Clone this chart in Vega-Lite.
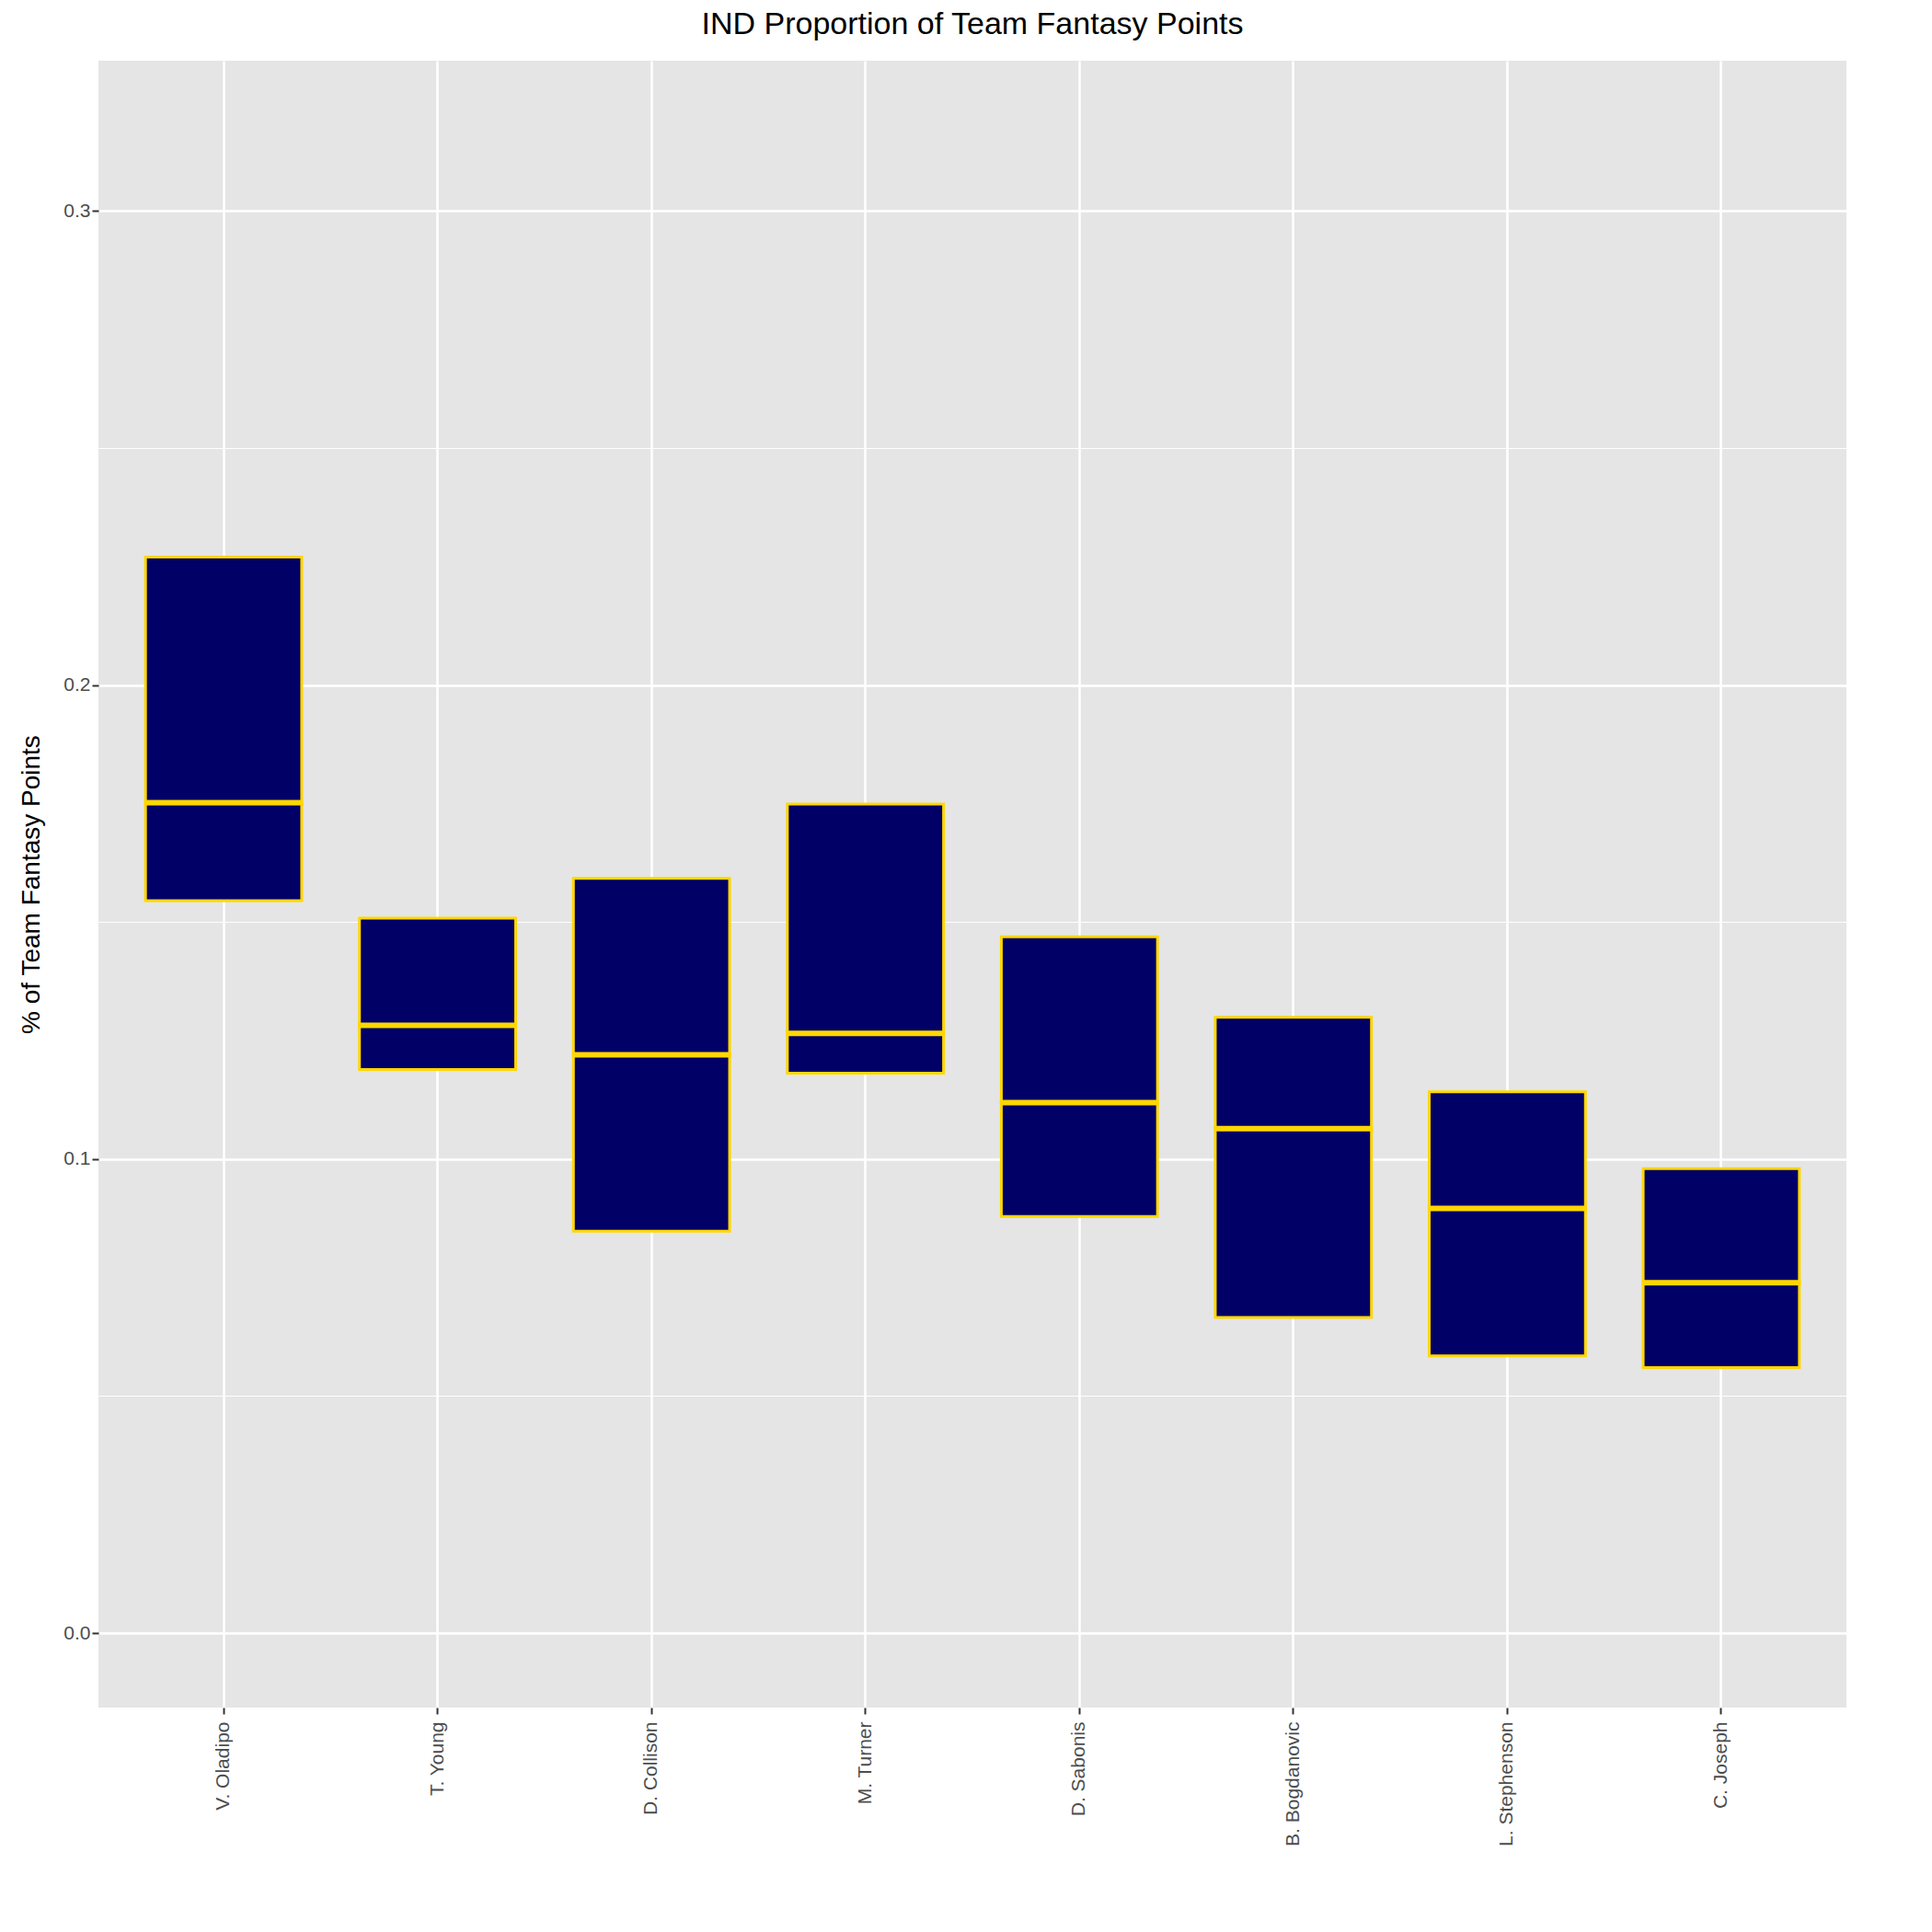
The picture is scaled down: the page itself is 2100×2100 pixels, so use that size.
{
  "$schema": "https://vega.github.io/schema/vega-lite/v6.json",
  "width": 1900,
  "height": 1790,
  "background": "white",
  "padding": {"left": 20, "top": 10, "right": 20, "bottom": 10},
  "title": {"text": "IND Proportion of Team Fantasy Points", "fontSize": 34, "font": "Liberation Sans", "fontWeight": "normal", "color": "black", "offset": 22},
  "config": {
    "view": {"fill": "#E5E5E5", "stroke": null},
    "axis": {"labelFont": "Liberation Sans", "titleFont": "Liberation Sans", "labelColor": "#4D4D4D", "tickColor": "#333333", "gridColor": "white", "domain": false}
  },
  "data": {"values": [
    {"player": "V. Oladipo", "low": 0.1545, "mid": 0.1752, "high": 0.227},
    {"player": "T. Young", "low": 0.1189, "mid": 0.1282, "high": 0.1508},
    {"player": "D. Collison", "low": 0.0848, "mid": 0.122, "high": 0.1592},
    {"player": "M. Turner", "low": 0.1181, "mid": 0.1265, "high": 0.1749},
    {"player": "D. Sabonis", "low": 0.0879, "mid": 0.1119, "high": 0.1469},
    {"player": "B. Bogdanovic", "low": 0.0666, "mid": 0.1064, "high": 0.1299},
    {"player": "L. Stephenson", "low": 0.0585, "mid": 0.0896, "high": 0.1142},
    {"player": "C. Joseph", "low": 0.056, "mid": 0.0739, "high": 0.098}
  ]},
  "resolve": {"axis": {"y": "independent"}},
  "layer": [
    {
      "mark": {"type": "tick", "opacity": 0},
      "encoding": {
        "y": {"field": "mid", "type": "quantitative", "scale": {"domain": [-0.0157, 0.3317], "nice": false, "zero": false},
          "axis": {"orient": "right", "values": [0.05, 0.15, 0.25], "labels": false, "ticks": false, "title": null, "grid": true, "gridWidth": 1.2}}
      }
    },
    {
      "mark": {"type": "tick", "opacity": 0},
      "encoding": {
        "x": {"field": "player", "type": "nominal", "sort": null,
          "scale": {"paddingInner": 0.27, "paddingOuter": 0.22},
          "axis": {"title": null, "labelAngle": -90, "labelFontSize": 21, "bandPosition": 0.5, "grid": true, "gridWidth": 2.5, "tickSize": 7, "tickWidth": 2, "labelPadding": 8}},
        "y": {"field": "mid", "type": "quantitative",
          "axis": {"values": [0, 0.1, 0.2, 0.3], "format": ".1f", "title": "% of Team Fantasy Points", "titleFontSize": 28, "titleFontWeight": "normal", "titleColor": "black", "labelFontSize": 21, "grid": true, "gridWidth": 2.5, "tickSize": 7, "tickWidth": 2, "titlePadding": 20}}
      }
    },
    {
      "mark": {"type": "bar", "fill": "#000066", "stroke": "#FFD700", "strokeWidth": 3},
      "encoding": {
        "x": {"field": "player", "type": "nominal", "sort": null},
        "y": {"field": "low", "type": "quantitative", "axis": null},
        "y2": {"field": "high"}
      }
    },
    {
      "mark": {"type": "tick", "color": "#FFD700", "opacity": 1, "thickness": 6, "size": 173},
      "encoding": {
        "x": {"field": "player", "type": "nominal", "sort": null},
        "y": {"field": "mid", "type": "quantitative", "axis": null}
      }
    }
  ]
}
